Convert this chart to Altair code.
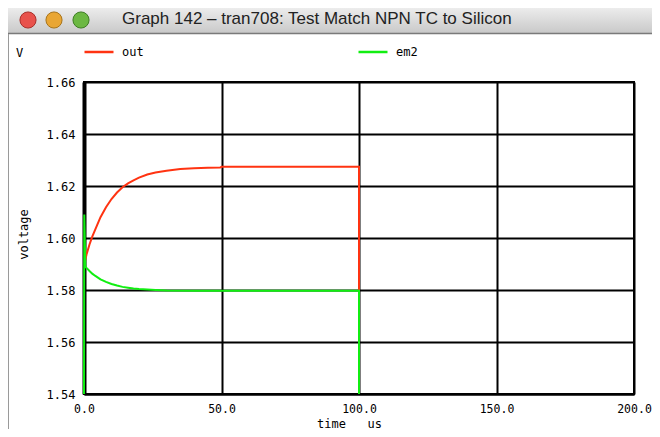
import altair as alt
import pandas as pd

# ---- data ----
series_names = ["out", "em2"]
series_colors = ["#ff3311", "#11ee11"]

out_time = [0.3, 1, 2, 3, 4, 6, 8, 10, 12, 14, 16, 18, 20, 23, 26, 30, 35, 40, 45, 49.5,
            50, 60, 70, 80, 90, 100, 100]
out_volt = [1.5908, 1.5940, 1.5975, 1.6005, 1.6030, 1.6080, 1.6118, 1.6150, 1.6175, 1.6195,
            1.6210, 1.6222, 1.6232, 1.6244, 1.6252, 1.6259, 1.6265, 1.6268, 1.6270, 1.6271,
            1.6274, 1.6274, 1.6274, 1.6274, 1.6274, 1.6274, 1.5800]

em2_time = [0.0, 0.1, 0.5, 1, 2, 3, 4, 6, 8, 10, 12, 14, 16, 18, 20, 23, 26, 30,
            40, 50, 60, 70, 80, 90, 100, 100]
em2_volt = [1.5000, 1.6090, 1.5890, 1.5884, 1.5873, 1.5863, 1.5855, 1.5841, 1.5831, 1.5823,
            1.5817, 1.5812, 1.5809, 1.5806, 1.5804, 1.5802, 1.5800, 1.5798,
            1.5797, 1.5797, 1.5797, 1.5797, 1.5797, 1.5797, 1.5797, 1.5000]

y_ticks = [1.54, 1.56, 1.58, 1.60, 1.62, 1.64, 1.66]
x_ticks = [0, 50, 100, 150, 200]

window_title = "Graph 142 \u2013 tran708: Test Match NPN TC to Silicon"
x_title = "time\u00a0\u00a0\u00a0us"
y_title = "voltage"
unit_label = "V"

MONO = "DejaVu Sans Mono"

out_df = pd.DataFrame({"t": out_time, "v": out_volt, "series": "out",
                       "i": range(len(out_time))})
em2_df = pd.DataFrame({"t": em2_time, "v": em2_volt, "series": "em2",
                       "i": range(len(em2_time))})

xscale = alt.Scale(domain=[0, 200], nice=False, zero=False)
yscale = alt.Scale(domain=[1.54, 1.66], nice=False, zero=False, clamp=True)
cscale = alt.Scale(domain=series_names, range=series_colors)

x_enc = alt.X("t:Q", scale=xscale,
              axis=alt.Axis(values=x_ticks, format=".1f", title=x_title,
                            grid=True, gridColor="black", gridWidth=2, gridOpacity=1,
                            domainColor="black", domainWidth=2, ticks=False,
                            labelPadding=9, labelFont=MONO, labelFontSize=11.5,
                            labelColor="black", labelFlush=False,
                            titleFont=MONO, titleFontSize=12, titleFontWeight="normal",
                            titleColor="black", titleX=265, titleY=29,
                            titleBaseline="middle", titleAlign="center"))
y_enc = alt.Y("v:Q", scale=yscale,
              axis=alt.Axis(values=y_ticks, format=".2f", title=y_title,
                            grid=True, gridColor="black", gridWidth=2, gridOpacity=1,
                            domainColor="black", domainWidth=4, ticks=False,
                            labelPadding=9, labelFont=MONO, labelFontSize=12,
                            labelColor="black", labelFlush=False,
                            titleFont=MONO, titleFontSize=12, titleFontWeight="normal",
                            titleColor="black", titleX=-61, titleY=152,
                            titleAngle=270, titleBaseline="middle", titleAlign="center"))

legend = alt.Legend(orient="none", legendX=-1, legendY=-46, direction="horizontal",
                    title=None,
                    symbolType="stroke", symbolSize=841, symbolStrokeWidth=2.5,
                    labelFont=MONO, labelFontSize=12, labelColor="black",
                    labelOffset=7, columnPadding=209, padding=0)

color_enc = alt.Color("series:N", scale=cscale, legend=legend)

red = alt.Chart(out_df).mark_line(strokeWidth=2).encode(
    x=x_enc, y=y_enc, color=color_enc, order=alt.Order("i:Q"))
green = alt.Chart(em2_df).mark_line(strokeWidth=2).encode(
    x=x_enc, y=y_enc, color=color_enc, order=alt.Order("i:Q"))

# ---- window chrome (decoration) ----
one = alt.Data(values=[{}])
bar = alt.Chart(one).mark_rect(
    color=alt.Gradient(gradient="linear", x1=0, x2=0, y1=0, y2=1,
                       stops=[alt.GradientStop(color="#ececec", offset=0),
                              alt.GradientStop(color="#c9c9c9", offset=1)])
).encode(x=alt.value(-76), x2=alt.value(568), y=alt.value(-74), y2=alt.value(-49))
bar_line = alt.Chart(one).mark_rule(color="#7a7a7a", strokeWidth=1.5).encode(
    x=alt.value(-76), x2=alt.value(568), y=alt.value(-48.5))
left_border = alt.Chart(one).mark_rule(color="#9a9a9a", strokeWidth=1).encode(
    x=alt.value(-75.5), y=alt.value(-48), y2=alt.value(347))
lights = []
for cx, fill, edge in [(-56, "#e8524c", "#a8302a"), (-30, "#e9a634", "#a8741a"),
                       (-3, "#6cb843", "#3f7e25")]:
    lights.append(alt.Chart(one).mark_point(filled=True, shape="circle", size=260,
                                            fill=fill, stroke=edge, strokeWidth=1,
                                            opacity=1).encode(
        x=alt.value(cx), y=alt.value(-62)))
title_txt = alt.Chart(one).mark_text(font="Liberation Sans", fontSize=17, color="#222222",
                                     align="left", baseline="middle").encode(
    x=alt.value(38), y=alt.value(-63), text=alt.value(window_title))
unit_txt = alt.Chart(one).mark_text(font=MONO, fontSize=12, color="black",
                                    align="left", baseline="middle").encode(
    x=alt.value(-68), y=alt.value(-29), text=alt.value(unit_label))

chart = alt.layer(bar, bar_line, left_border, *lights, title_txt, unit_txt,
                  red, green).properties(
    width=550, height=312,
    autosize=alt.AutoSizeParams(type="none"),
    padding={"left": 76, "top": 74, "right": 18, "bottom": 35},
    background="white",
).configure_view(stroke="black", strokeWidth=2)

chart.save("out.html", embed_options={"renderer": "svg", "actions": False})
